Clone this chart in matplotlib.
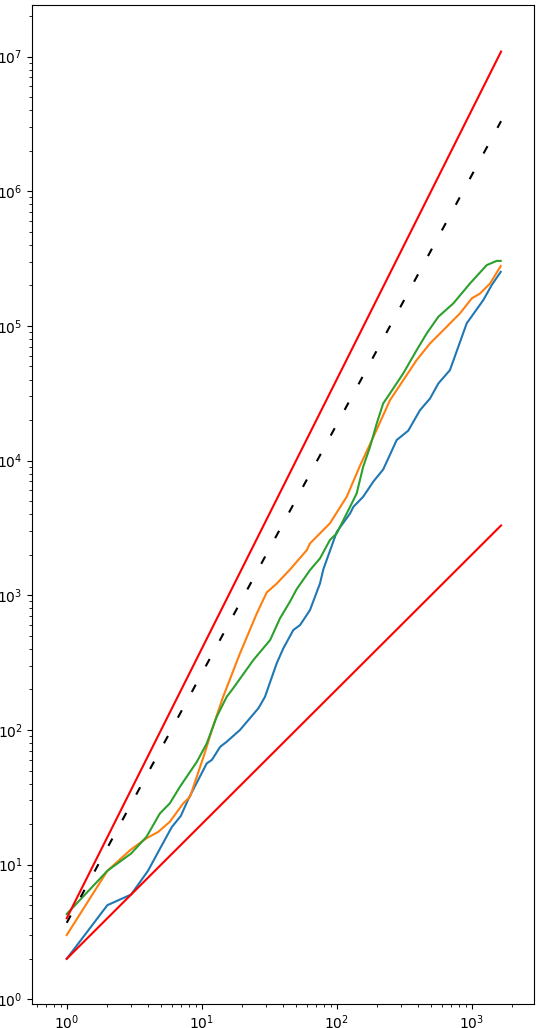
import matplotlib
matplotlib.use("Agg")
import matplotlib.pyplot as plt
import numpy as np

# ==============================================
# DATA
# ==============================================
blue_x = [1, 2, 3, 4, 5, 6, 7, 8, 10.9, 11.9, 13.7, 15.3, 19.2, 26.3, 29.4, 35.9,
          40.2, 47.7, 53.5, 63.4, 75.2, 79.6, 100, 125.6, 133, 157, 187, 221, 278, 339,
          414, 491, 566, 690, 918, 1219, 1406, 1640]
blue_y = [2, 5, 6, 9, 13.6, 19, 23, 31, 56.5, 60, 75, 81.7, 100, 145, 176, 312,
          403, 552, 601, 777, 1225, 1560, 2950, 4055, 4540, 5390, 7000, 8600, 14200, 16700,
          23700, 28900, 37400, 47000, 104500, 155600, 201000, 252000]

orange_x = [1, 2, 3, 3.9, 4.76, 5.8, 7.3, 8.2, 10.3, 12.2, 14.4, 19.2, 25.6, 30.3, 35.9,
            45, 60, 63.4, 89, 118.6, 149, 187, 248, 349, 391, 491, 617, 819, 1000,
            1152, 1367, 1640]
orange_y = [3, 9, 13, 15.7, 17.5, 20.8, 28.5, 32, 63, 108, 176, 370, 734, 1050, 1220,
            1550, 2163, 2427, 3420, 5390, 9200, 15000, 28100, 47000, 55800, 74100, 93100, 124000, 160000,
            174000, 206600, 278000]

green_x = [1, 2, 3, 3.9, 4.9, 5.8, 6.9, 9.2, 10.9, 12.9, 15.3, 17.1, 24.1, 32.1, 38,
           45, 50.5, 63.4, 75.2, 89, 100, 112, 125.6, 140.6, 157, 176.5, 198, 221, 248,
           311, 391, 464, 566, 731, 971, 1292, 1531, 1640]
green_y = [4.3, 9, 12.1, 16.1, 24, 28.5, 37.9, 58, 79.5, 125, 176, 204, 330, 465, 674,
           895, 1110, 1538, 1879, 2570, 2880, 3615, 4540, 5710, 9000, 12650, 18900, 26600, 31550,
           44400, 66100, 87900, 117000, 147000, 206600, 282900, 304000, 304000]

# reference power laws: y = c * x^p
n_max = 1650
upper_c, upper_p = 4, 2
lower_c, lower_p = 2, 1
fit_c, fit_p = 3.7, 1.85

# ==============================================
# PLOT
# ==============================================
fig = plt.figure(figsize=(5.4, 10.28), dpi=100)
ax = fig.add_axes([0.0598, 0.0233, 0.930, 0.972])

ax.plot(blue_x, blue_y, color="C0", lw=1.5)
ax.plot(orange_x, orange_y, color="C1", lw=1.5)
ax.plot(green_x, green_y, color="C2", lw=1.5)

xs = np.array([1, n_max])
ax.plot(xs, fit_c * xs ** fit_p, color="k", lw=1.5, dashes=(4, 10))
ax.plot(xs, upper_c * xs ** upper_p, color="r", lw=1.5)
ax.plot(xs, lower_c * xs ** lower_p, color="r", lw=1.5)

ax.set_xscale("log")
ax.set_yscale("log")
ax.set_xlim(10 ** -0.255, 10 ** 3.465)
ax.set_ylim(10 ** -0.035, 10 ** 7.384)

plt.savefig("out.png", dpi=100)
plt.close()
